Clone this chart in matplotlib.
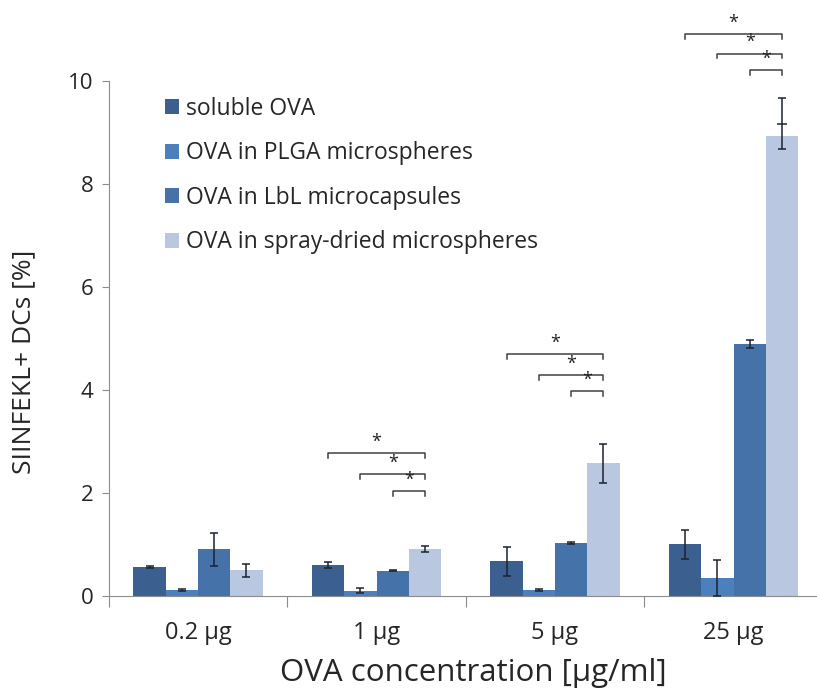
import numpy as np
import matplotlib.pyplot as plt

plt.rcParams['font.family'] = ['Open Sans', 'DejaVu Sans']

groups = ["0.2 µg", "1 µg", "5 µg", "25 µg"]
series = ["soluble OVA", "OVA in PLGA microspheres",
          "OVA in LbL microcapsules", "OVA in spray-dried microspheres"]
colors = ["#3b5f8e", "#4c80bd", "#4472a9", "#b9c7e0"]

means = [
    [0.57, 0.60, 0.68, 1.00],   # soluble
    [0.12, 0.10, 0.12, 0.34],   # PLGA
    [0.91, 0.49, 1.02, 4.89],   # LbL
    [0.50, 0.91, 2.58, 8.93],   # spray-dried
]
err_low = [
    [0.02, 0.06, 0.30, 0.28],
    [0.02, 0.05, 0.02, 0.35],
    [0.33, 0.01, 0.02, 0.08],
    [0.13, 0.06, 0.38, 0.25],
]
err_high = [
    [0.02, 0.06, 0.28, 0.28],
    [0.02, 0.05, 0.02, 0.35],
    [0.32, 0.01, 0.02, 0.08],
    [0.12, 0.06, 0.37, 0.74],
]
extra_cap = 9.16  # second cap on the 25 µg spray-dried error bar

# significance brackets: group -> heights of brackets from bar 0,1,2 to bar 3
sig_groups = [1, 2, 3]
sig_heights = [
    [2.77, 2.37, 2.04],
    [4.70, 4.29, 3.97],
    [10.91, 10.53, 10.21],
]

fig = plt.figure(figsize=(8.17, 6.93), dpi=100)
ax = fig.add_axes([0.1331, 0.140, 0.874, 0.860])

x = np.arange(len(groups))
w = 0.181
offsets = (np.arange(4) - 1.5) * w

for i in range(4):
    ax.bar(x + offsets[i], means[i], w, color=colors[i], label=series[i], zorder=2)
    ax.errorbar(x + offsets[i], means[i], yerr=[err_low[i], err_high[i]],
                fmt='none', ecolor='#1c2230', elinewidth=1.1, capsize=3,
                capthick=1.1, zorder=3, clip_on=False)

ax.plot([x[3] + offsets[3]], [extra_cap], marker='_', color='#1c2230',
        markersize=7, mew=1.1, zorder=3)

tick_h = 0.09
for g, hs in zip(sig_groups, sig_heights):
    x_end = x[g] + offsets[3]
    for j, h in enumerate(hs):
        x_start = x[g] + offsets[j]
        ax.plot([x_start, x_start, x_end, x_end], [h - tick_h, h, h, h - tick_h],
                color='#404040', lw=1.1, clip_on=False)
        ax.text((x_start + x_end) / 2, h + 0.22, "*", ha='center', va='center',
                fontsize=13, color='#222222')

ax.set_xlim(-0.5, 3.5)
ax.set_ylim(0, 11.57)

for s in ['top', 'right']:
    ax.spines[s].set_visible(False)
ax.spines['left'].set_bounds(0, 10)
ax.spines['left'].set_color('#8c8c8c')
ax.spines['bottom'].set_color('#8c8c8c')

ax.set_yticks([0, 2, 4, 6, 8, 10])
ax.tick_params(axis='y', length=5, color='#8c8c8c', labelsize=16,
               labelcolor='#262626', pad=6)

ax.set_xticks(np.arange(-0.5, 4, 1))
ax.set_xticklabels([])
ax.set_xticks(x, minor=True)
ax.set_xticklabels(groups, minor=True)
ax.tick_params(axis='x', which='major', length=8, color='#8c8c8c')
ax.tick_params(axis='x', which='minor', length=0, labelsize=17,
               labelcolor='#262626', pad=18)

ax.set_xlabel("OVA concentration [µg/ml]", fontsize=22.5, color='#262626')
ax.xaxis.set_label_coords(0.511, -0.104)
ax.set_ylabel("SIINFEKL+ DCs [%]", fontsize=19, color='#262626')
ax.yaxis.set_label_coords(-0.102, 0.393)

ax.legend(loc='upper left', bbox_to_anchor=(0.0788, 0.838), frameon=False,
          fontsize=16.5, handlelength=0.62, handleheight=0.62, handletextpad=0.3,
          labelspacing=0.9, borderpad=0, borderaxespad=0,
          labelcolor='#262626')

fig.savefig("out.png", dpi=100)
